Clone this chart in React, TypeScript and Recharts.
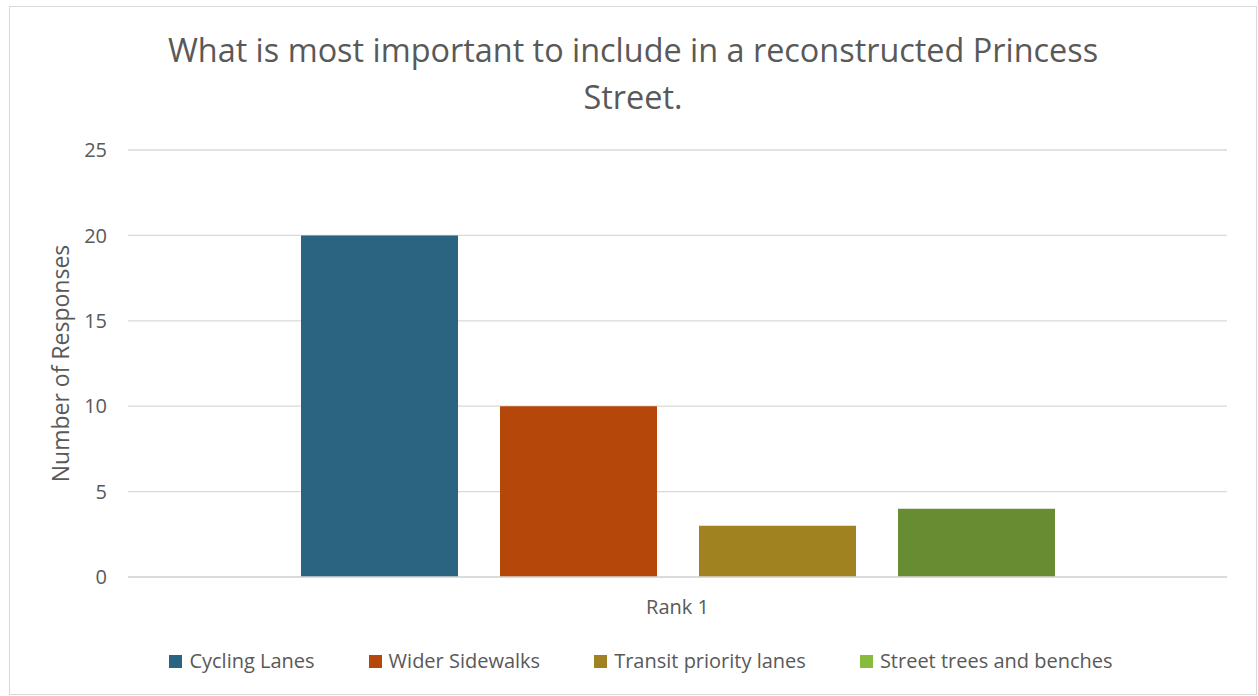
import { BarChart, Bar, XAxis, YAxis, CartesianGrid } from 'recharts';

const categories = ['Rank 1'];
const seriesNames = ['Cycling Lanes', 'Wider Sidewalks', 'Transit priority lanes', 'Street trees and benches'];
const seriesValues = [20, 10, 3, 4];
const yTicks = [0, 5, 10, 15, 20, 25];

const barColors = ['#2b6480', '#b5470a', '#a08220', '#688c31'];
const legendColors = ['#2b6480', '#b5470a', '#a08220', '#86bb3c'];

const data = categories.map((name) => {
  const row: Record<string, string | number> = { name };
  seriesNames.forEach((s, i) => {
    row[s] = seriesValues[i];
  });
  return row;
});

const font = '"Open Sans", sans-serif';
const textColor = '#595959';

function ChartLegend() {
  return (
    <div
      style={{
        position: 'absolute',
        left: 0,
        top: 647,
        width: 1282,
        display: 'flex',
        justifyContent: 'center',
        fontFamily: font,
        fontSize: 20,
        lineHeight: '28px',
        color: textColor,
      }}
    >
      {seriesNames.map((s, i) => (
        <div key={s} style={{ display: 'flex', alignItems: 'center', marginRight: i < seriesNames.length - 1 ? 54 : 0 }}>
          <span style={{ width: 13, height: 13, background: legendColors[i], display: 'inline-block', marginRight: 7 }} />
          <span>{s}</span>
        </div>
      ))}
    </div>
  );
}

export default function App() {
  return (
    <div style={{ position: 'absolute', left: 0, top: 0, width: 1258, height: 696, background: '#fff' }}>
      <div
        style={{
          position: 'absolute',
          left: 9,
          top: 6,
          width: 1246,
          height: 687,
          border: '1px solid #d9d9d9',
        }}
      />
      <div
        style={{
          position: 'absolute',
          left: 0,
          top: 26,
          width: 1266,
          textAlign: 'center',
          fontFamily: font,
          fontSize: 32.4,
          lineHeight: '47px',
          color: textColor,
        }}
      >
        What is most important to include in a reconstructed Princess
        <br />
        Street.
      </div>
      <BarChart
        width={1258}
        height={696}
        data={data}
        margin={{ top: 150, right: 31, left: 0, bottom: 79 }}
        barSize={157}
        barGap={42}
        style={{ position: 'absolute', left: 0, top: 0 }}
      >
        <CartesianGrid vertical={false} stroke="#d9d9d9" strokeWidth={1.3} />
        <XAxis
          dataKey="name"
          height={40}
          axisLine={{ stroke: '#d9d9d9', strokeWidth: 1.3 }}
          tickLine={false}
          tickMargin={17}
          tick={{ fill: textColor, fontSize: 20, fontFamily: font }}
        />
        <YAxis
          width={128}
          domain={[0, 25]}
          ticks={yTicks}
          axisLine={false}
          tickLine={false}
          tickMargin={15}
          tick={{ fill: textColor, fontSize: 20, fontFamily: font }}
          label={{
            content: ({ viewBox }: any) => {
              const cy = viewBox.y + viewBox.height / 2;
              return (
                <text
                  x={60}
                  y={cy}
                  transform={`rotate(-90, 60, ${cy})`}
                  textAnchor="middle"
                  dominantBaseline="central"
                  fill={textColor}
                  fontSize={23}
                  fontFamily={font}
                >
                  Number of Responses
                </text>
              );
            },
          }}
        />
        {seriesNames.map((s, i) => (
          <Bar key={s} dataKey={s} fill={barColors[i]} isAnimationActive={false} />
        ))}
      </BarChart>
      <ChartLegend />
    </div>
  );
}
